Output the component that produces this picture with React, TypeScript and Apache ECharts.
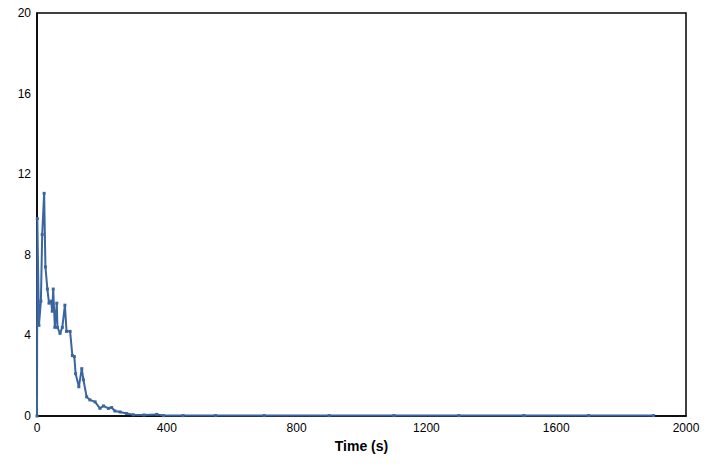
import { useEffect, useRef } from "react";
import * as echarts from "echarts";

const times = [0, 1, 6, 12, 16, 22, 26, 32, 37, 43, 47, 50, 55, 61, 63, 71, 78, 86, 91, 102, 109, 115, 119, 129, 138, 143, 153, 163, 179, 194, 205, 220, 230, 240, 256, 276, 297, 330, 369, 390, 450, 550, 700, 900, 1100, 1300, 1500, 1700, 1900];
const values = [0, 9.8, 4.5, 5.7, 9.0, 11.05, 7.4, 6.3, 5.6, 5.7, 5.2, 6.3, 4.4, 5.6, 4.4, 4.1, 4.4, 5.5, 4.2, 4.2, 3.0, 2.95, 2.1, 1.45, 2.35, 1.8, 0.95, 0.8, 0.7, 0.38, 0.5, 0.38, 0.42, 0.25, 0.2, 0.12, 0.06, 0.05, 0.08, 0.02, 0.02, 0.02, 0.02, 0.02, 0.02, 0.02, 0.02, 0.02, 0.02];

const App = () => {
  const chartRef = useRef<HTMLDivElement>(null);

  useEffect(() => {
    document.body.style.margin = "0";
    if (!chartRef.current) return;
    const chart = echarts.init(chartRef.current, null, { renderer: "svg" });
    const axisText = { color: "#000", fontSize: 12, fontFamily: "Liberation Sans" };
    chart.setOption({
      animation: false,
      grid: { left: 37, right: 37, top: 13, bottom: 54, show: true, borderColor: "#000", borderWidth: 1.5 },
      xAxis: {
        type: "value",
        min: 0,
        max: 2000,
        interval: 400,
        name: "Time (s)",
        nameLocation: "middle",
        nameGap: 22,
        nameTextStyle: { ...axisText, fontSize: 14, fontWeight: "bold" },
        axisLine: { lineStyle: { color: "#000", width: 1.5 } },
        axisTick: { show: false },
        axisLabel: { ...axisText, margin: 6, formatter: (v: number) => String(v) },
        splitLine: { show: false },
      },
      yAxis: {
        type: "value",
        min: 0,
        max: 20,
        interval: 4,
        axisLine: { show: true, lineStyle: { color: "#000", width: 1.5 } },
        axisTick: { show: false },
        axisLabel: { ...axisText, margin: 6 },
        splitLine: { show: false },
      },
      series: [
        {
          type: "line",
          data: times.map((t, i) => [t, values[i]]),
          symbol: "rect",
          symbolSize: 3,
          lineStyle: { color: "#3a65a0", width: 2 },
          itemStyle: { color: "#3a65a0" },
        },
      ],
    });
    return () => chart.dispose();
  }, []);

  return <div ref={chartRef} style={{ width: 723, height: 470 }} />;
};

export default App;
